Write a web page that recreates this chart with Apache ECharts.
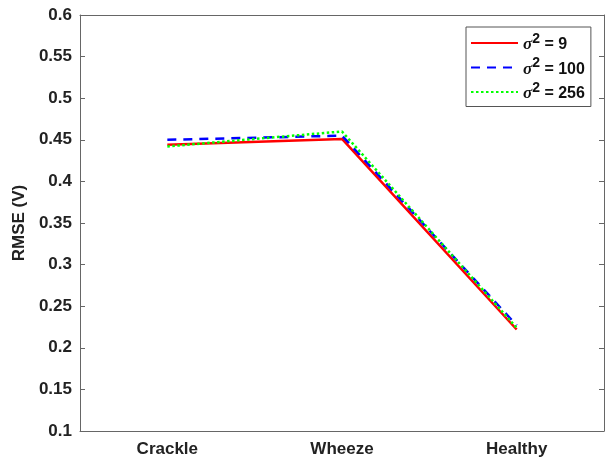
<!DOCTYPE html>
<html>
<head>
<meta charset="utf-8">
<script src="https://cdn.jsdelivr.net/npm/echarts@6/dist/echarts.min.js"></script>
<style>html,body{margin:0;padding:0;background:#fff}#c{width:605px;height:458px}</style>
</head>
<body>
<div id="c"></div>
<script>
var categories = ['Crackle', 'Wheeze', 'Healthy'];
var sigma9 = [0.444, 0.451, 0.222];
var sigma100 = [0.450, 0.455, 0.227];
var sigma256 = [0.442, 0.460, 0.224];
var seriesNames = ['9', '100', '256'];
var yTicks = [0.1, 0.15, 0.2, 0.25, 0.3, 0.35, 0.4, 0.45, 0.5, 0.55, 0.6];

var font = 'Liberation Sans, Arial, sans-serif';
var axisColor = '#666';
var chart = echarts.init(document.getElementById('c'));
function lbl(v) { return String(+v.toFixed(2)); }
chart.setOption({
  animation: false,
  grid: { left: 80, right: 1, top: 15, bottom: 26, containLabel: false },
  legend: {
    orient: 'vertical',
    left: 466, top: 27,
    padding: [5, 6, 4, 4],
    itemGap: 3,
    itemWidth: 47, itemHeight: 14,
    borderColor: '#555', borderWidth: 1,
    backgroundColor: '#fff',
    itemStyle: { opacity: 0 },
    formatter: function (n) { return '{s|σ}{p|2}{t| = ' + n + '}'; },
    textStyle: {
      fontFamily: font, fontWeight: 'bold', fontSize: 16, color: '#111',
      rich: {
        s: { fontFamily: 'Liberation Serif, serif', fontStyle: 'italic', fontWeight: 'bold', fontSize: 17, color: '#111', padding: [4, 0, 0, 0] },
        p: { fontFamily: font, fontWeight: 'bold', fontSize: 14, color: '#111', verticalAlign: 'top', padding: [0, 0, 8, 0] },
        t: { fontFamily: font, fontWeight: 'bold', fontSize: 16, color: '#111', padding: [4, 0, 0, 0] }
      }
    },
    data: seriesNames
  },
  xAxis: [{
    type: 'category', data: categories, boundaryGap: true,
    axisLine: { lineStyle: { color: axisColor, width: 1 } },
    axisTick: { inside: true, alignWithLabel: true, length: 5, lineStyle: { color: axisColor } },
    axisLabel: { fontFamily: font, fontWeight: 'bold', fontSize: 17, color: '#222', margin: 10 },
    splitLine: { show: false }
  }, {
    type: 'category', data: categories, boundaryGap: true, position: 'top',
    axisLine: { lineStyle: { color: axisColor, width: 1 } },
    axisTick: { inside: true, alignWithLabel: true, length: 5, lineStyle: { color: axisColor } },
    axisLabel: { show: false }
  }],
  yAxis: [{
    type: 'value', min: 0.1, max: 0.6, interval: 0.05,
    name: 'RMSE (V)', nameLocation: 'middle', nameGap: 52, nameRotate: 90,
    nameTextStyle: { fontFamily: font, fontWeight: 'bold', fontSize: 17, color: '#222' },
    axisLine: { show: true, lineStyle: { color: axisColor, width: 1 } },
    axisTick: { show: true, inside: true, length: 5, lineStyle: { color: axisColor } },
    axisLabel: { fontFamily: font, fontWeight: 'bold', fontSize: 17, color: '#222', margin: 8, formatter: lbl },
    splitLine: { show: false }
  }, {
    type: 'value', min: 0.1, max: 0.6, interval: 0.05, position: 'right',
    axisLine: { show: true, lineStyle: { color: axisColor, width: 1 } },
    axisTick: { show: true, inside: true, length: 5, lineStyle: { color: axisColor } },
    axisLabel: { show: false },
    splitLine: { show: false }
  }],
  series: [
    { name: seriesNames[0], type: 'line', data: sigma9, symbol: 'none', z: 3,
      lineStyle: { color: '#ff0000', width: 2.5, type: 'solid' }, itemStyle: { color: '#ff0000' } },
    { name: seriesNames[1], type: 'line', data: sigma100, symbol: 'none', z: 4,
      lineStyle: { color: '#0000ff', width: 2.5, type: [9, 7] }, itemStyle: { color: '#0000ff' } },
    { name: seriesNames[2], type: 'line', data: sigma256, symbol: 'none', z: 5,
      lineStyle: { color: '#00ff00', width: 2.5, type: [2.5, 2.5] }, itemStyle: { color: '#00ff00' } }
  ]
});
</script>
</body>
</html>
